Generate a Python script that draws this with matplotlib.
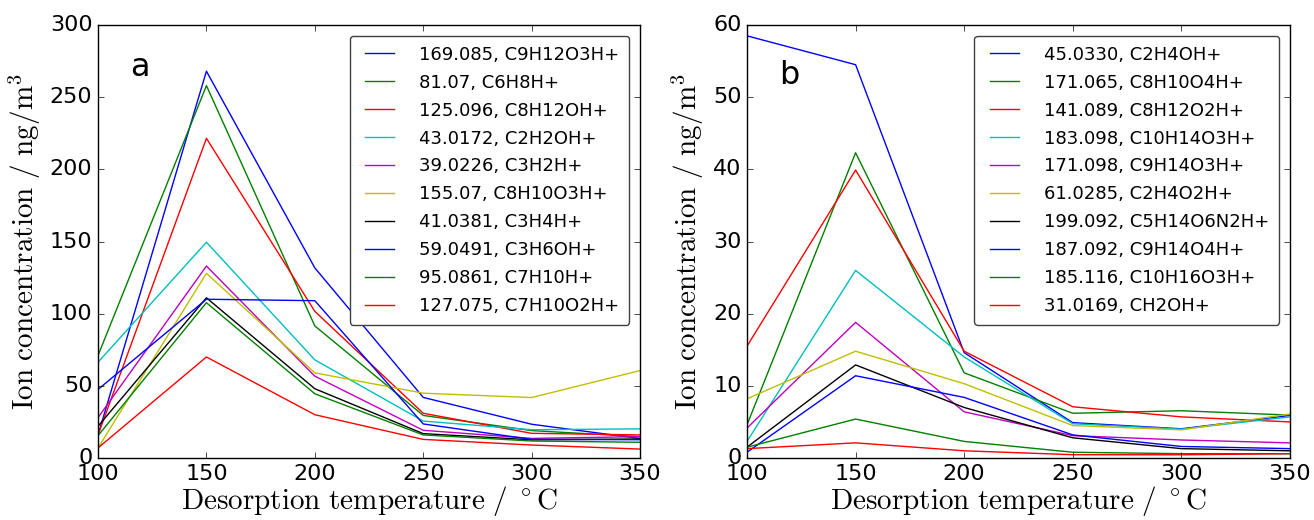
import matplotlib
matplotlib.use("Agg")
import matplotlib.pyplot as plt

plt.style.use("classic")
plt.rcParams["mathtext.fontset"] = "cm"
plt.rcParams["font.family"] = ["DejaVu Sans"]

temps = [100, 150, 200, 250, 300, 350]

labels_a = ["169.085, C9H12O3H+", "81.07, C6H8H+", "125.096, C8H12OH+",
            "43.0172, C2H2OH+", "39.0226, C3H2H+", "155.07, C8H10O3H+",
            "41.0381, C3H4H+", "59.0491, C3H6OH+", "95.0861, C7H10H+",
            "127.075, C7H10O2H+"]
a_169 = [16, 268, 131.7, 42, 23.4, 13.5]
a_81 = [71, 258, 91.5, 29.5, 19.0, 14.8]
a_125 = [16, 221.5, 101.6, 31, 17.1, 16]
a_43 = [66.4, 149.5, 68, 25.6, 19.6, 20.2]
a_39 = [28, 133, 56.7, 19.2, 13.6, 14.8]
a_155 = [7, 128, 59, 44.9, 41.9, 60.6]
a_41 = [22, 111, 48, 16.9, 12.6, 13.2]
a_59 = [47.5, 110, 109, 23.6, 12.9, 12.7]
a_95 = [15.5, 107.6, 44.5, 16, 11.8, 10.9]
a_127 = [7, 70, 30, 12.9, 9, 6.2]
series_a = [a_169, a_81, a_125, a_43, a_39, a_155, a_41, a_59, a_95, a_127]

labels_b = ["45.0330, C2H4OH+", "171.065, C8H10O4H+", "141.089, C8H12O2H+",
            "183.098, C10H14O3H+", "171.098, C9H14O3H+", "61.0285, C2H4O2H+",
            "199.092, C5H14O6N2H+", "187.092, C9H14O4H+", "185.116, C10H16O3H+",
            "31.0169, CH2OH+"]
b_45 = [58.5, 54.5, 14.6, 4.9, 4.05, 5.9]
b_171a = [4.6, 42.3, 11.8, 6.2, 6.55, 5.95]
b_141 = [15.5, 39.9, 14.8, 7.1, 5.7, 5.0]
b_183 = [2.3, 26.0, 14.0, 4.75, 4.0, 5.7]
b_171b = [4.15, 18.8, 6.4, 3.1, 2.5, 2.1]
b_61 = [8.2, 14.8, 10.3, 4.5, 3.9, 6.1]
b_199 = [1.5, 12.9, 7.0, 2.8, 1.3, 1.0]
b_187 = [0.8, 11.4, 8.4, 3.2, 1.6, 1.3]
b_185 = [1.5, 5.4, 2.3, 0.8, 0.6, 0.6]
b_31 = [1.3, 2.1, 1.0, 0.46, 0.45, 0.6]
series_b = [b_45, b_171a, b_141, b_183, b_171b, b_61, b_199, b_187, b_185, b_31]

colors = ["b", "g", "r", "c", "m", "y", "k", "b", "g", "r"]

fig = plt.figure(figsize=(13.14, 5.2), dpi=100, facecolor="white")
ax1 = fig.add_axes([0.0746, 0.1192, 0.4125, 0.8327])
ax2 = fig.add_axes([0.5685, 0.1192, 0.4132, 0.8327])

ylabel = r"$\mathrm{Ion\ concentration\ /\ ng/m^3}$"
xlabel = r"$\mathrm{Desorption\ temperature\ /\ ^\circ C}$"

for ax, series, labels, ymax, letter, ly in [
        (ax1, series_a, labels_a, 300, "a", 265),
        (ax2, series_b, labels_b, 60, "b", 51.8)]:
    for s, lab, c in zip(series, labels, colors):
        ax.plot(temps, s, color=c, lw=1.0, label=lab)
    ax.set_xlim(100, 350)
    ax.set_ylim(0, ymax)
    ax.tick_params(labelsize=16)
    ax.set_xlabel(xlabel, fontsize=21, labelpad=0)
    ax.set_ylabel(ylabel, fontsize=21)
    ax.text(115, ly, letter, fontsize=23, va="baseline", ha="left")
    leg = ax.legend(loc="upper right", fontsize=13, handlelength=2.2,
                    handletextpad=1.1, labelspacing=0.55, borderpad=0.55,
                    borderaxespad=0.6, numpoints=2, fancybox=True)
    leg.get_frame().set_edgecolor("0.25")

fig.savefig("out.png", dpi=100, facecolor="white")
